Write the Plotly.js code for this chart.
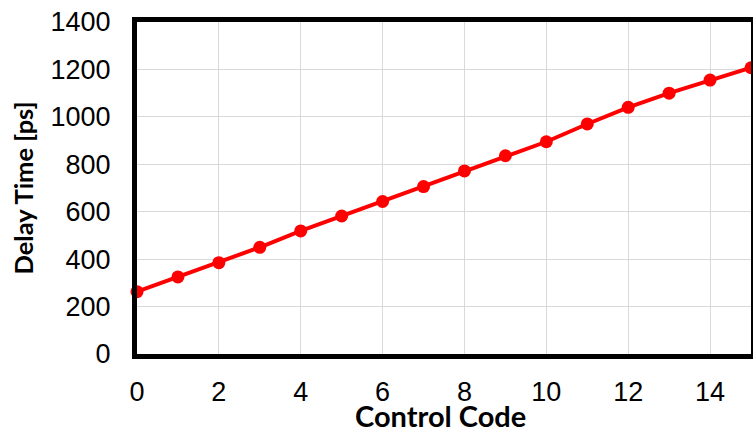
<!DOCTYPE html>
<html>
<head>
<meta charset="utf-8">
<script src="https://cdn.plot.ly/plotly-3.0.1.min.js"></script>
<style>html,body{margin:0;padding:0;background:#fff;}#chart{width:753px;height:432px;}</style>
</head>
<body>
<div id="chart"></div>
<script>
const controlCode = [0,1,2,3,4,5,6,7,8,9,10,11,12,13,14,15];
const delayTime = [263,325,385,450,519,582,643,706,772,836,895,970,1040,1100,1155,1207];
const xTicks = [0,2,4,6,8,10,12,14];
const yTicks = [0,200,400,600,800,1000,1200,1400];
const xTitle = 'Control Code';
const yTitle = 'Delay Time [ps]';

const trace = {
  x: controlCode,
  y: delayTime,
  mode: 'lines+markers',
  type: 'scatter',
  line: {color: '#ff0000', width: 4},
  marker: {color: '#ff0000', size: 13},
  cliponaxis: false,
  showlegend: false
};

const layout = {
  width: 753,
  height: 432,
  margin: {l: 137, r: 2, t: 22, b: 78},
  paper_bgcolor: '#ffffff',
  plot_bgcolor: '#ffffff',
  font: {family: 'Liberation Sans, Arial, sans-serif', color: '#000000', size: 27},
  xaxis: {
    range: [0, 15],
    tickvals: xTicks,
    ticktext: xTicks.map(String),
    showgrid: true,
    gridcolor: '#d9d9d9',
    gridwidth: 1,
    zeroline: false,
    showline: true,
    linecolor: '#000000',
    linewidth: 5,
    mirror: true,
    ticks: '',
    ticklabelstandoff: 10,
    tickfont: {size: 27, family: 'Liberation Sans, Arial, sans-serif'}
  },
  yaxis: {
    range: [0, 1400],
    tickvals: yTicks,
    ticktext: yTicks.map(String),
    showgrid: true,
    gridcolor: '#d9d9d9',
    gridwidth: 1,
    zeroline: false,
    showline: true,
    linecolor: '#000000',
    linewidth: 5,
    mirror: true,
    ticks: '',
    ticklabelstandoff: 16,
    tickfont: {size: 27, family: 'Liberation Sans, Arial, sans-serif'},
    title: {text: '<b>' + yTitle + '</b>', font: {family: 'Lato, sans-serif', size: 25.5}, standoff: 11}
  },
  annotations: [{
    text: '<b>' + xTitle + '</b>',
    xref: 'paper', yref: 'paper',
    x: 0.5, y: 0,
    xanchor: 'center', yanchor: 'middle',
    xshift: -4, yshift: -61,
    showarrow: false,
    font: {family: 'Lato, sans-serif', size: 29, color: '#000000'}
  }]
};

Plotly.newPlot('chart', [trace], layout, {displayModeBar: false, staticPlot: true});
</script>
</body>
</html>
